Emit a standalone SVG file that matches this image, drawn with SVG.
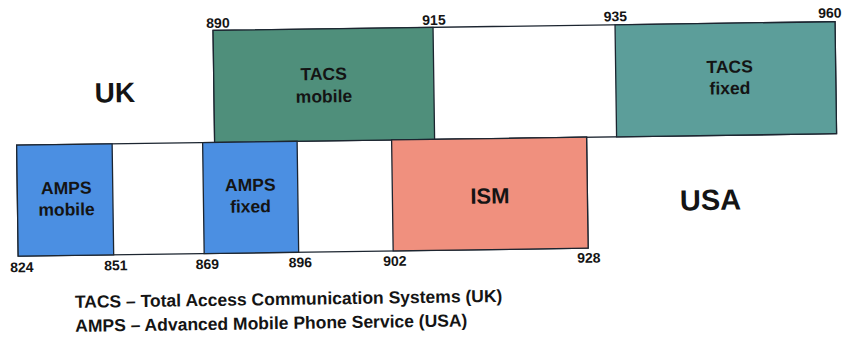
<svg xmlns="http://www.w3.org/2000/svg" width="846" height="337" viewBox="0 0 846 337">
  <style>
    .band { fill: #ffffff; stroke: #1c2530; stroke-width: 1.3; }
    .blk { stroke: #1c2530; stroke-width: 1.3; }
    .tacs-m { fill: #4f8f7b; }
    .tacs-f { fill: #5c9e9a; }
    .amps { fill: #4b8fe2; }
    .ism { fill: #f0907e; }
    text { font-family: "Liberation Sans", Arial, sans-serif; font-weight: bold; fill: #141414; text-anchor: middle; }
    .freq { font-size: 14px; }
    .lbl { font-size: 17.5px; }
    .region { font-size: 28px; }
    .note { font-size: 17.5px; text-anchor: start; }
  </style>
  <rect width="846" height="337" fill="#ffffff"/>
  <g transform="rotate(-0.8 423 168)">
    <!-- frequency bands (MHz) -->
    <g id="bands">
      <rect class="band" x="215" y="27.5" width="622" height="112"/>
      <rect class="band" x="17" y="139.5" width="570" height="111"/>
    </g>

    <g id="tacs-mobile">
      <rect class="blk tacs-m" x="215" y="27.5" width="220" height="112"/>
      <text class="lbl" x="325" y="78.5">TACS</text>
      <text class="lbl" x="325" y="101">mobile</text>
    </g>

    <g id="tacs-fixed">
      <rect class="blk tacs-f" x="617" y="27.5" width="220" height="112"/>
      <text class="lbl" x="731" y="77">TACS</text>
      <text class="lbl" x="731" y="98.5">fixed</text>
    </g>

    <g id="amps-mobile">
      <rect class="blk amps" x="17" y="139.5" width="95.5" height="111"/>
      <text class="lbl" x="66" y="189">AMPS</text>
      <text class="lbl" x="66" y="210.5">mobile</text>
    </g>

    <g id="amps-fixed">
      <rect class="blk amps" x="203" y="139.5" width="94.5" height="111"/>
      <text class="lbl" x="250" y="188.5">AMPS</text>
      <text class="lbl" x="250" y="210">fixed</text>
    </g>

    <g id="ism">
      <rect class="blk ism" x="392" y="139.5" width="195" height="111"/>
      <text x="489.5" y="204.5" style="font-size:22px">ISM</text>
    </g>

    <!-- band edge frequencies -->
    <g id="freqs">
      <text class="freq" x="220" y="25">890</text>
      <text class="freq" x="436" y="25">915</text>
      <text class="freq" x="617.5" y="24">935</text>
      <text class="freq" x="832" y="23.5">960</text>
      <text class="freq" x="20.5" y="266.5">824</text>
      <text class="freq" x="114.5" y="266">851</text>
      <text class="freq" x="206" y="266">869</text>
      <text class="freq" x="299" y="265.5">896</text>
      <text class="freq" x="393.5" y="265.5">902</text>
      <text class="freq" x="587.5" y="265">928</text>
    </g>

    <g id="regions">
      <text class="region" x="116" y="98">UK</text>
      <text class="region" x="710" y="214" style="font-size:29px">USA</text>
    </g>

    <g id="legend">
      <text class="note" x="73" y="303">TACS – Total Access Communication Systems (UK)</text>
      <text class="note" x="73" y="327">AMPS – Advanced Mobile Phone Service (USA)</text>
    </g>
  </g>
</svg>
